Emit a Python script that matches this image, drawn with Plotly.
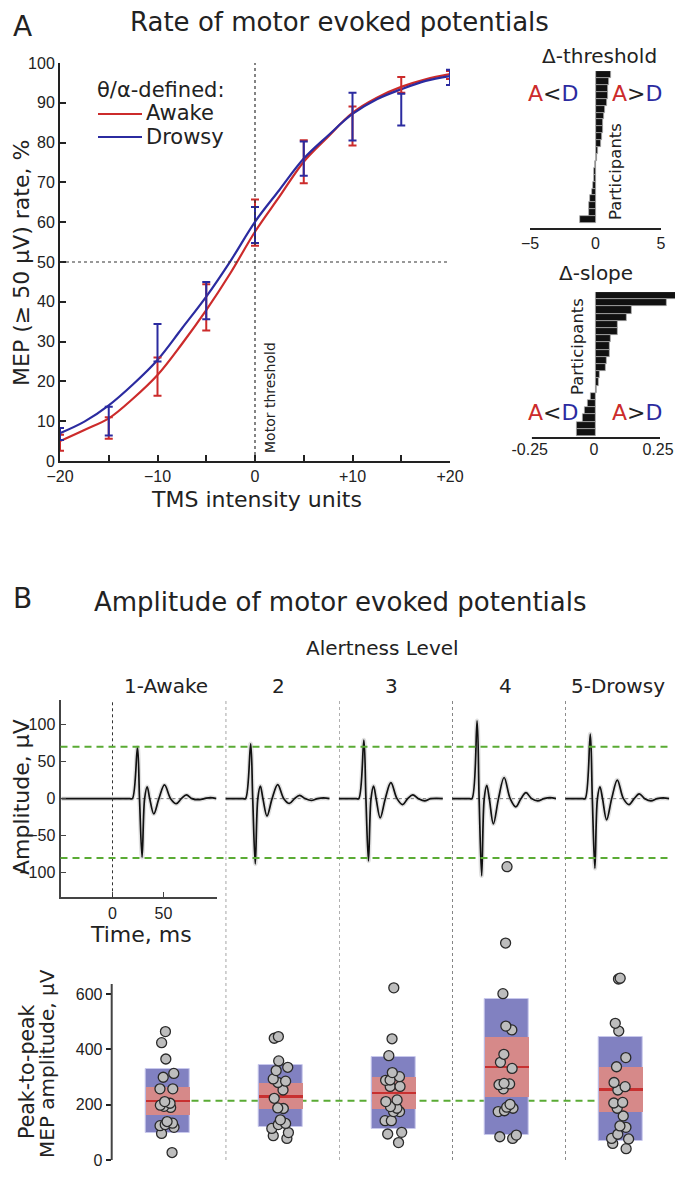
import plotly.graph_objects as go

# page has an 8px body margin: figure is sized so that page == 683x1177
PAD = 8
W, H = 683 - 2 * PAD, 1177 - 2 * PAD
def fx(p): return (p - PAD) / W
def fy(p): return 1 - (p - PAD) / H

# ---------------- DATA ----------------
ERR_X = [-20, -15, -10, -5, 0, 5, 10, 15, 20]
AWAKE_MEAN = [4.6, 8.3, 21.2, 38.6, 59.9, 75.2, 84.2, 94.5, 97.0]
AWAKE_SE = [2.0, 2.7, 4.8, 5.8, 5.8, 5.4, 4.9, 2.0, 1.0]
DROWSY_MEAN = [6.8, 10.0, 29.7, 40.3, 59.3, 76.0, 86.5, 88.3, 96.4]
DROWSY_SE = [1.5, 3.6, 4.7, 4.7, 4.5, 4.3, 6.0, 4.0, 1.9]

FIT_X = [-20, -17.5, -15, -12.5, -10, -7.5, -5, -2.5, 0, 2.5, 5, 7.5, 10, 12.5, 15, 17.5, 20]
AWAKE_FIT = [5.0, 7.8, 10.7, 15.7, 21.6, 29.4, 37.9, 47.3, 57.6, 66.4, 75.2, 81.5, 87.5, 91.3, 94.0, 95.9, 97.2]
DROWSY_FIT = [7.0, 9.9, 14.0, 19.3, 25.4, 33.3, 41.3, 50.3, 60.1, 68.1, 76.0, 81.8, 87.2, 90.9, 93.4, 95.5, 96.7]

A_XTICKS = [-20, -15, -10, -5, 0, 5, 10, 15, 20]
A_XTICKTEXT = ["\u221220", "", "\u221210", "", "0", "", "+10", "", "+20"]
A_YTICKS = [0, 10, 20, 30, 40, 50, 60, 70, 80, 90, 100]
RATE_REF = 50
THRESH_REF = 0

# participants, listed top to bottom
DELTA_THRESHOLD = [1.2, 1.0, 0.95, 0.95, 0.85, 0.75, 0.65, 0.6, 0.55, 0.5, 0.45,
                   0.2, 0.08, -0.02, -0.08, -0.15, -0.22, -0.3, -0.4, -0.5, -0.5, -1.2]
DELTA_SLOPE = [0.335, 0.276, 0.139, 0.122, 0.087, 0.087, 0.057, 0.055, 0.053, 0.042,
               0.040, 0.016, 0.010, 0.003, -0.021, -0.030, -0.043, -0.052, -0.073, -0.073]
THR_TICKS = [-5, 0, 5]
SLOPE_TICKS = [-0.25, 0, 0.25]
SLOPE_TICKTEXT = ["-0.25", "0", "0.25"]

LEVELS = ["1-Awake", "2", "3", "4", "5-Drowsy"]
WAVE_T = [-50, 0, 17, 19.5, 24.5, 26.5, 29, 31.5, 34, 36.5, 40.5, 45.5, 51, 57,
          62.5, 67.5, 72.5, 78, 84, 90, 96, 102]
WAVES = [
    [0, 0, 0, 0, 69, 0, -79, 0, 16, 0, -20.5, 0, 18.5, 0, -6.8, 0, 5.0, 0, -1.5, 0, 1.5, 0],
    [0, 0, 0, 0, 74, 0, -88, 0, 17, 0, -23.5, 0, 19.0, 0, -6.5, 0, 4.5, 0, -2.5, 0, 1.0, 0],
    [0, 0, 0, 0, 79, 0, -84, 0, 17, 0, -26.0, 0, 21.5, 0, -8.0, 0, 5.0, 0, -3.0, 0, 0.5, 0],
    [0, 0, 0, 0, 105, 0, -104, 0, 18, 0, -34.0, 0, 28.5, 0, -11.0, 0, 8.0, 0, -3.0, 0, 1.5, 0],
    [0, 0, 0, 0, 87, 0, -94, 0, 16, 0, -28.5, 0, 25.0, 0, -8.0, 0, 6.5, 0, -3.0, 0, 1.0, 0],
]
AMP_THRESH = [70, -80]
WAVE_YTICKS = [-100, -50, 0, 50, 100]
TIME_TICKS = [0, 50]

POSITIONS = [1, 2, 3, 4, 5]
BLUE_HI = [328, 342, 373, 582, 443]
BLUE_LO = [99, 120, 112, 90, 69]
RED_HI = [263, 280, 300, 443, 337]
RED_LO = [163, 183, 184, 228, 174]
MEDIAN = [214, 231, 243, 337, 256]
P2P_POINTS = [
    [464, 424, 365, 313, 299, 257, 257, 211, 205, 198, 194, 190, 139, 133, 128, 124, 118, 96, 27],
    [446, 440, 358, 335, 323, 293, 285, 280, 253, 223, 188, 186, 145, 132, 128, 114, 99, 88, 78],
    [622, 438, 377, 316, 301, 289, 288, 266, 266, 217, 211, 193, 187, 175, 175, 142, 142, 100, 94, 63],
    [1060, 784, 601, 484, 470, 382, 353, 331, 277, 275, 272, 257, 201, 191, 187, 178, 175, 90, 84, 78],
    [657, 654, 494, 466, 370, 337, 280, 265, 253, 208, 206, 187, 159, 123, 118, 93, 78, 76, 60, 41],
]
P2P_YTICKS = [0, 200, 400, 600]
P2P_AXIS_TOP = 636

# ---------------- STYLE ----------------
RED = "#cc2b2b"
BLUE = "#2b2ba0"
GREEN = "#5aab34"
INK = "#222222"
TFONT = "DejaVu Sans"
NFONT = "Liberation Sans Narrow, Liberation Sans, Arial, sans-serif"

fig = go.Figure()

# ---------- Panel A main ----------
fig.add_trace(go.Scatter(x=FIT_X, y=AWAKE_FIT, mode="lines", line=dict(color=RED, width=2.2, shape="spline"),
                         xaxis="x", yaxis="y", showlegend=False))
fig.add_trace(go.Scatter(x=FIT_X, y=DROWSY_FIT, mode="lines", line=dict(color=BLUE, width=2.2, shape="spline"),
                         xaxis="x", yaxis="y", showlegend=False))
fig.add_trace(go.Scatter(x=ERR_X, y=AWAKE_MEAN, mode="markers", marker=dict(size=1, color="rgba(0,0,0,0)"),
                         error_y=dict(type="data", array=AWAKE_SE, color=RED, thickness=2, width=4),
                         xaxis="x", yaxis="y", showlegend=False))
fig.add_trace(go.Scatter(x=ERR_X, y=DROWSY_MEAN, mode="markers", marker=dict(size=1, color="rgba(0,0,0,0)"),
                         error_y=dict(type="data", array=DROWSY_SE, color=BLUE, thickness=2, width=4),
                         xaxis="x", yaxis="y", showlegend=False))

# ---------- Delta panels ----------
n_t = len(DELTA_THRESHOLD)
fig.add_trace(go.Bar(x=DELTA_THRESHOLD, y=list(range(n_t))[::-1], orientation="h",
                     marker=dict(color="#111111", line=dict(color="#b0b0b0", width=0.7)),
                     xaxis="x2", yaxis="y2", showlegend=False))
n_s = len(DELTA_SLOPE)
fig.add_trace(go.Bar(x=DELTA_SLOPE, y=list(range(n_s))[::-1], orientation="h",
                     marker=dict(color="#111111", line=dict(color="#b0b0b0", width=0.7)),
                     xaxis="x3", yaxis="y3", showlegend=False))

# ---------- Waveforms ----------
for i, w in enumerate(WAVES):
    ax = str(4 + i)
    fig.add_trace(go.Scatter(x=WAVE_T, y=w, mode="lines",
                             line=dict(color="rgba(0,0,0,0.12)", width=4.5, shape="spline"),
                             xaxis="x" + ax, yaxis="y" + ax, showlegend=False))
    fig.add_trace(go.Scatter(x=WAVE_T, y=w, mode="lines",
                             line=dict(color="#111111", width=1.7, shape="spline"),
                             xaxis="x" + ax, yaxis="y" + ax, showlegend=False))

# ---------- Peak-to-peak ----------
fig.add_trace(go.Bar(x=POSITIONS, y=[h - l for h, l in zip(BLUE_HI, BLUE_LO)], base=BLUE_LO, width=0.39,
                     marker=dict(color="#8181c1", line=dict(color="#c8c8ec", width=1)),
                     xaxis="x9", yaxis="y9", showlegend=False))
fig.add_trace(go.Bar(x=POSITIONS, y=[h - l for h, l in zip(RED_HI, RED_LO)], base=RED_LO, width=0.39,
                     marker=dict(color="#d68989", line=dict(width=0)),
                     xaxis="x9", yaxis="y9", showlegend=False))
MED_THICK = 7
fig.add_trace(go.Bar(x=POSITIONS, y=[MED_THICK] * len(MEDIAN), base=[m - MED_THICK / 2 for m in MEDIAN],
                     width=0.39, marker=dict(color="#c83030", line=dict(width=0)),
                     xaxis="x9", yaxis="y9", showlegend=False))
for p, pts in zip(POSITIONS, P2P_POINTS):
    fig.add_trace(go.Box(x=[p] * len(pts), y=pts, boxpoints="all", jitter=0.75, pointpos=0, width=0.28,
                         fillcolor="rgba(0,0,0,0)", line=dict(width=0, color="rgba(0,0,0,0)"),
                         marker=dict(size=10, color="#bdbdbd", line=dict(color="#2a2a2a", width=1.3)),
                         xaxis="x9", yaxis="y9", showlegend=False))

# ---------------- LAYOUT ----------------
tickfont = dict(family=NFONT, size=16, color=INK)
SLOPE_PX_PER_UNIT = (660 - 531.7) / 0.5
slope_right = SLOPE_TICKS[-1] + (683 - PAD - 660) / SLOPE_PX_PER_UNIT
layout = dict(
    width=W, height=H, margin=dict(l=0, r=0, t=0, b=0, autoexpand=False),
    paper_bgcolor="white", plot_bgcolor="rgba(0,0,0,0)",
    barmode="overlay", bargap=0, showlegend=False,
    xaxis=dict(domain=[fx(60), fx(450)], range=[-20, 20], anchor="y", showline=True, linecolor=INK,
               linewidth=2, ticks="inside", ticklen=6, tickwidth=1.5, tickcolor=INK,
               tickvals=A_XTICKS, ticktext=A_XTICKTEXT, tickfont=tickfont, showgrid=False, zeroline=False),
    yaxis=dict(domain=[fy(461), fy(63)], range=[0, 100], anchor="x", showline=True, linecolor=INK,
               linewidth=2, ticks="inside", ticklen=6, tickwidth=1.5, tickcolor=INK,
               tickvals=A_YTICKS, tickfont=tickfont, showgrid=False, zeroline=False),
    xaxis2=dict(domain=[fx(530), fx(661)], range=[-5, 5], anchor="y2", showline=True, linecolor=INK,
                linewidth=2, ticks="", tickvals=THR_TICKS, tickfont=tickfont, showgrid=False, zeroline=False),
    yaxis2=dict(domain=[fy(228), fy(71)], range=[-1.2, n_t - 0.5], anchor="x2", visible=False),
    xaxis3=dict(domain=[fx(531.7), 1.0], range=[-0.25, slope_right], anchor="y3", showline=False,
                ticks="", tickvals=SLOPE_TICKS, ticktext=SLOPE_TICKTEXT,
                tickfont=dict(family=NFONT, size=16, color=INK), ticklabelshift=-2,
                showgrid=False, zeroline=False),
    yaxis3=dict(domain=[fy(438), fy(292)], range=[-0.78, n_s - 0.5], anchor="x3", visible=False),
    xaxis9=dict(domain=[fx(111.7), 1.0], range=[0.507, 0.507 + (683 - PAD - 111.7) / 113.2],
                anchor="y9", visible=False),
    yaxis9=dict(domain=[fy(1160), fy(860)], range=[0, 1084], anchor="x9", showline=False,
                ticks="outside", ticklen=5, tickwidth=1.5, tickcolor=INK, tickvals=P2P_YTICKS,
                tickfont=tickfont, showgrid=False, zeroline=False),
)
WAVE_X0 = [60.5, 225.7, 338.9, 452.1, 565.3]
for i in range(5):
    k = str(4 + i)
    if i == 0:
        layout["xaxis" + k] = dict(domain=[fx(60.5), fx(216.5)], range=[-51, 102], anchor="y" + k,
                                   showline=True, linecolor="#444", linewidth=2, ticks="inside",
                                   ticklen=5, tickcolor="#444", tickvals=TIME_TICKS, tickfont=tickfont,
                                   showgrid=False, zeroline=False)
        layout["yaxis" + k] = dict(domain=[fy(897.3), fy(700)], range=[-133, 133], anchor="x" + k,
                                   showline=True, linecolor="#444", linewidth=2, ticks="inside",
                                   ticklen=5, tickcolor="#444", tickvals=WAVE_YTICKS, tickfont=tickfont,
                                   showgrid=False, zeroline=False)
    else:
        layout["xaxis" + k] = dict(domain=[fx(WAVE_X0[i]), fx(WAVE_X0[i] + 104)], range=[0, 102],
                                   anchor="y" + k, visible=False)
        layout["yaxis" + k] = dict(domain=[fy(897.3), fy(700)], range=[-133, 133], anchor="x" + k,
                                   visible=False)
for key in list(layout.keys()):
    if key.startswith("xaxis") or key.startswith("yaxis"):
        layout[key]["automargin"] = False
        layout[key]["ticklabeloverflow"] = "allow"
fig.update_layout(**layout)

# ---------------- SHAPES ----------------
dot = dict(color="#333", width=1, dash="dot")
fig.add_shape(type="line", xref="x", yref="y", x0=-20, x1=20, y0=RATE_REF, y1=RATE_REF,
              line=dict(color="#333", width=1.2, dash="3px,3px"))
fig.add_shape(type="line", xref="x", yref="y", x0=THRESH_REF, x1=THRESH_REF, y0=0, y1=100,
              line=dict(color="#333", width=1.2, dash="3px,3px"))
fig.add_shape(type="line", xref="x3", yref="y3 domain", x0=SLOPE_TICKS[0], x1=SLOPE_TICKS[-1], y0=0, y1=0,
              line=dict(color=INK, width=2))
for i in range(5):
    k = str(4 + i)
    fig.add_shape(type="line", xref="x" + k, yref="y" + k, x0=0, x1=100, y0=0, y1=0,
                  line=dict(color="#555", width=0.8, dash="dot"), layer="below")
    if i == 0:
        fig.add_shape(type="line", xref="x4", yref="y4 domain", x0=0, x1=0, y0=0, y1=1, line=dot)
    else:
        fig.add_shape(type="line", xref="x" + k, yref="paper", x0=0, x1=0, y0=fy(1160), y1=fy(700), line=dot)
for a in AMP_THRESH:
    fig.add_shape(type="line", xref="paper", yref="y4", x0=fx(60.5), x1=fx(WAVE_X0[4] + 104), y0=a, y1=a,
                  line=dict(color=GREEN, width=2.2, dash="7px,5px"))
fig.add_shape(type="line", xref="x9", yref="y9", x0=POSITIONS[0], x1=POSITIONS[-1], y0=MEDIAN[0], y1=MEDIAN[0],
              line=dict(color=GREEN, width=2.2, dash="7px,5px"), layer="below")
fig.add_shape(type="line", xref="x9 domain", yref="y9", x0=0, x1=0, y0=0, y1=P2P_AXIS_TOP,
              line=dict(color="#444", width=2))
fig.add_shape(type="line", xref="paper", yref="paper", x0=fx(98), x1=fx(142), y0=fy(114), y1=fy(114),
              line=dict(color=RED, width=2.2))
fig.add_shape(type="line", xref="paper", yref="paper", x0=fx(98), x1=fx(142), y0=fy(137), y1=fy(137),
              line=dict(color=BLUE, width=2.2))

# ---------------- TEXT ----------------
def txt(x, y, s, size, angle=0, anchor="center", family=TFONT, color=INK):
    fig.add_annotation(x=fx(x), y=fy(y), xref="paper", yref="paper", text=s, showarrow=False,
                       textangle=angle, xanchor=anchor, yanchor="middle",
                       font=dict(family=family, size=size, color=color))

txt(22, 26, "A", 28)
txt(22, 598, "B", 28)
txt(339, 22, "Rate of motor evoked potentials", 26)
txt(340, 602, "Amplitude of motor evoked potentials", 26)
txt(21, 263, "MEP (\u2265 50 \u03bcV) rate, %", 22, angle=-90)
txt(256, 499, "TMS intensity units", 22)
txt(270, 398, "Motor threshold", 14, angle=-90)
txt(95, 90, "\u03b8/\u03b1-defined:", 21, anchor="left")
txt(144, 113, "Awake", 21, anchor="left")
txt(144, 137, "Drowsy", 21, anchor="left")
txt(599, 56, "\u0394-threshold", 20)
txt(596, 273, "\u0394-slope", 20)
txt(615, 172, "Participants", 16.5, angle=-90)
txt(577, 347, "Participants", 16.5, angle=-90)
AD_LT = f"<span style='color:{RED}'>A</span>&lt;<span style='color:{BLUE}'>D</span>"
AD_GT = f"<span style='color:{RED}'>A</span>&gt;<span style='color:{BLUE}'>D</span>"
txt(553, 93, AD_LT, 22)
txt(637, 93, AD_GT, 22)
txt(553, 413, AD_LT, 22)
txt(637, 413, AD_GT, 22)

txt(382, 648, "Alertness Level", 20)
for i, lab in enumerate(LEVELS):
    k = str(4 + i)
    fig.add_annotation(x=52, y=fy(686), xref="x" + k, yref="paper", yanchor="middle", showarrow=False,
                       text=lab, font=dict(family=TFONT, size=20, color=INK))
txt(21, 797, "Amplitude, \u03bcV", 22, angle=-90)
txt(141, 934, "Time, ms", 22)
txt(27, 1072, "Peak-to-peak", 20.5, angle=-90)
txt(47, 1064, "MEP amplitude, \u03bcV", 20, angle=-90)

fig.write_html("out.html")
